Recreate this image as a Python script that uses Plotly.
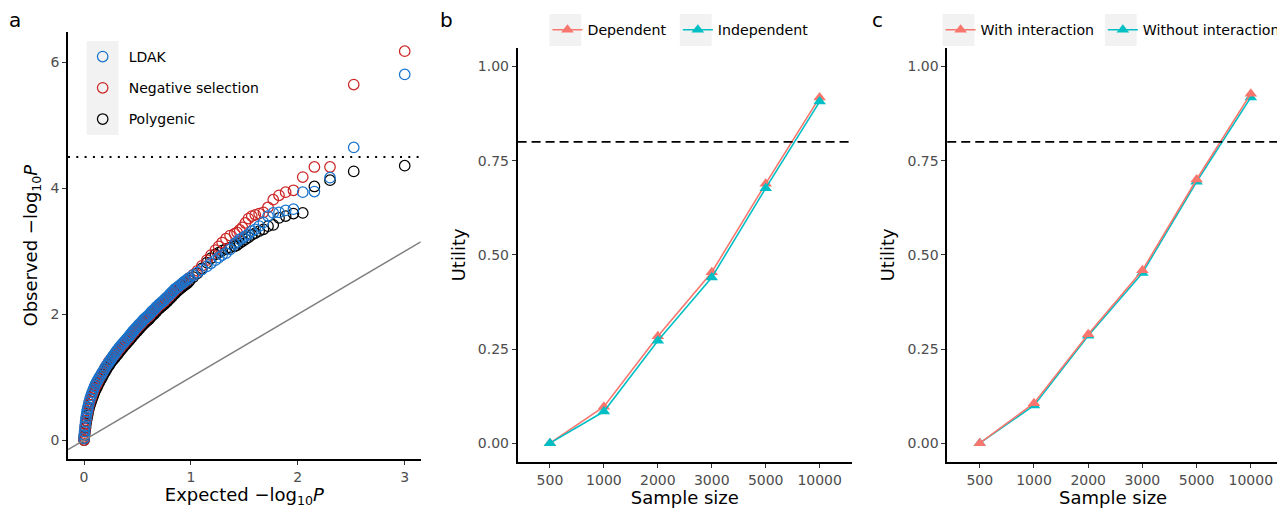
import plotly.graph_objects as go

# ---------------- Panel a: QQ plot data ----------------
expected = [3.000, 2.523, 2.301, 2.155, 2.046, 1.959, 1.886, 1.824, 1.770, 1.721,
            1.678, 1.638, 1.602, 1.569, 1.538, 1.509, 1.481, 1.456, 1.432, 1.409,
            1.366, 1.328, 1.292, 1.260, 1.229, 1.187, 1.149, 1.102, 1.060, 1.022,
            0.987, 0.971, 0.955, 0.939, 0.924, 0.910, 0.889, 0.876, 0.857, 0.845,
            0.827, 0.815, 0.799, 0.783, 0.767, 0.752, 0.738, 0.724, 0.710, 0.697,
            0.680, 0.668, 0.652, 0.636, 0.622, 0.607, 0.593, 0.580, 0.567, 0.554,
            0.539, 0.524, 0.510, 0.496, 0.483, 0.470, 0.457, 0.445, 0.433, 0.421,
            0.410, 0.395, 0.378, 0.364, 0.348, 0.334, 0.320, 0.307, 0.293, 0.282,
            0.268, 0.257, 0.245, 0.234, 0.223, 0.208, 0.194,
            0.181, 0.168, 0.156, 0.143, 0.131, 0.120, 0.108, 0.097, 0.087, 0.076,
            0.066, 0.056, 0.046, 0.037, 0.032, 0.027, 0.023, 0.018, 0.014, 0.009,
            0.005, 0.002, 0.0004]

obs_ldak = [5.81, 4.65, 4.17, 3.95, 3.94, 3.67, 3.65, 3.62, 3.61, 3.56,
            3.46, 3.40, 3.35, 3.32, 3.27, 3.24, 3.21, 3.19, 3.15, 3.12,
            3.03, 2.97, 2.94, 2.90, 2.86, 2.81, 2.76, 2.71, 2.66, 2.62,
            2.58, 2.56, 2.54, 2.52, 2.50, 2.48, 2.45, 2.43, 2.41, 2.39,
            2.36, 2.34, 2.31, 2.28, 2.26, 2.23, 2.21, 2.19, 2.17, 2.15,
            2.12, 2.10, 2.07, 2.05, 2.02, 1.99, 1.97, 1.95, 1.93, 1.91,
            1.88, 1.85, 1.83, 1.80, 1.78, 1.75, 1.73, 1.70, 1.68, 1.65,
            1.63, 1.60, 1.57, 1.54, 1.51, 1.48, 1.45, 1.42, 1.39, 1.36,
            1.33, 1.30, 1.27, 1.24, 1.21, 1.18, 1.14,
            1.10, 1.07, 1.03, 1.00, 0.96, 0.93, 0.89, 0.85, 0.80, 0.76,
            0.71, 0.66, 0.60, 0.53, 0.49, 0.45, 0.40, 0.35, 0.29, 0.22,
            0.14, 0.08, 0.03]

obs_negsel = [6.18, 5.65, 4.34, 4.34, 4.18, 3.97, 3.94, 3.89, 3.82, 3.70,
              3.62, 3.60, 3.58, 3.56, 3.52, 3.45, 3.38, 3.34, 3.30, 3.28,
              3.25, 3.20, 3.14, 3.08, 3.02, 2.94, 2.86, 2.77, 2.69, 2.63,
              2.58, 2.55, 2.53, 2.51, 2.49, 2.47, 2.44, 2.42, 2.39, 2.37,
              2.34, 2.32, 2.29, 2.26, 2.24, 2.21, 2.19, 2.17, 2.15, 2.13,
              2.10, 2.08, 2.05, 2.03, 2.00, 1.97, 1.95, 1.93, 1.91, 1.89,
              1.86, 1.83, 1.81, 1.78, 1.76, 1.73, 1.71, 1.68, 1.66, 1.63,
              1.61, 1.58, 1.55, 1.52, 1.49, 1.46, 1.43, 1.40, 1.37, 1.35,
              1.32, 1.30, 1.27, 1.25, 1.22, 1.18, 1.14,
              1.10, 1.06, 1.02, 0.98, 0.94, 0.90, 0.86, 0.82, 0.77, 0.72,
              0.67, 0.62, 0.56, 0.49, 0.45, 0.41, 0.36, 0.31, 0.25, 0.18,
              0.11, 0.05, 0.00]

obs_poly = [4.36, 4.27, 4.13, 4.03, 3.61, 3.60, 3.56, 3.53, 3.42, 3.40,
            3.35, 3.32, 3.29, 3.26, 3.22, 3.19, 3.16, 3.13, 3.10, 3.08,
            3.06, 3.04, 3.01, 2.98, 2.95, 2.89, 2.82, 2.73, 2.65, 2.59,
            2.53, 2.50, 2.48, 2.46, 2.44, 2.42, 2.39, 2.37, 2.34, 2.32,
            2.29, 2.27, 2.24, 2.21, 2.19, 2.16, 2.14, 2.12, 2.10, 2.08,
            2.05, 2.03, 2.00, 1.98, 1.95, 1.92, 1.90, 1.88, 1.86, 1.84,
            1.81, 1.78, 1.76, 1.73, 1.71, 1.68, 1.66, 1.63, 1.61, 1.58,
            1.56, 1.53, 1.50, 1.47, 1.44, 1.41, 1.38, 1.35, 1.32, 1.30,
            1.27, 1.25, 1.22, 1.19, 1.16, 1.12, 1.08,
            1.04, 1.00, 0.96, 0.92, 0.88, 0.84, 0.80, 0.76, 0.71, 0.66,
            0.61, 0.56, 0.50, 0.43, 0.39, 0.35, 0.31, 0.26, 0.20, 0.14,
            0.08, 0.03, 0.00]

significance_line = 4.5

# ---------------- Panels b, c: utility vs sample size ----------------
sample_sizes = ["500", "1000", "2000", "3000", "5000", "10000"]
utility_dependent = [0.000, 0.097, 0.284, 0.454, 0.689, 0.918]
utility_independent = [0.000, 0.084, 0.272, 0.440, 0.677, 0.907]
utility_with_interaction = [0.000, 0.106, 0.289, 0.459, 0.700, 0.928]
utility_without_interaction = [0.000, 0.100, 0.285, 0.452, 0.694, 0.918]
utility_target = 0.8

# The page body adds an 8 px offset; the figure is sized to fit the window.
OFF = 8
W, H = 1285 - OFF, 508 - OFF
FONT = "DejaVu Sans"
TICKC = "#4D4D4D"
SALMON = "#F8766D"
TEAL = "#00BFC4"
BLUE = "#1874CD"
RED = "#CD2626"


def px_x(p):
    return (p - OFF) / W


def px_y(p):
    return 1 - (p - OFF) / H


fig = go.Figure()

# Panel a traces (drawn black, red, blue so blue is on top)
for name, ys, col, rank in [("Polygenic", obs_poly, "black", 3),
                            ("Negative selection", obs_negsel, RED, 2),
                            ("LDAK", obs_ldak, BLUE, 1)]:
    fig.add_trace(go.Scatter(
        x=expected, y=ys, mode="markers", name=name,
        marker=dict(symbol="circle-open", size=10.5, color=col, line=dict(width=1.25, color=col)),
        xaxis="x", yaxis="y", legend="legend", legendgroup=name, legendrank=rank,
        hoverinfo="skip"))

# Panel b
for name, ys, col, leg in [("Dependent", utility_dependent, SALMON, "legend2"),
                           ("Independent", utility_independent, TEAL, "legend4")]:
    fig.add_trace(go.Scatter(
        x=sample_sizes, y=ys, mode="lines+markers", name=name,
        line=dict(color=col, width=1.6),
        marker=dict(symbol="triangle-up", size=11, color=col),
        xaxis="x2", yaxis="y2", legend=leg))

# Panel c (salmon drawn on top)
for name, ys, col, leg in [("Without interaction", utility_without_interaction, TEAL, "legend5"),
                           ("With interaction", utility_with_interaction, SALMON, "legend3")]:
    fig.add_trace(go.Scatter(
        x=sample_sizes, y=ys, mode="lines+markers", name=name,
        line=dict(color=col, width=1.6),
        marker=dict(symbol="triangle-up", size=11, color=col),
        xaxis="x3", yaxis="y3", legend=leg))

axis_common = dict(showgrid=False, zeroline=False, showline=True, linecolor="black",
                   linewidth=1.6, ticks="outside", ticklen=4, tickwidth=1.2, tickcolor="#333333",
                   tickfont=dict(family=FONT, size=14, color=TICKC), mirror=False)
title_font = dict(family=FONT, size=18, color="black")

x_a_range = [-0.15, 3.15]
y_a_range = [-0.3, 6.48]


def small_legend(xp, yp, size=14.2, **kw):
    return dict(x=px_x(xp), y=px_y(yp), xanchor="left", yanchor="top", bgcolor="rgba(0,0,0,0)",
                font=dict(family=FONT, size=size, color="black"), **kw)


fig.update_layout(
    width=W, height=H, margin=dict(l=0, r=0, t=0, b=0),
    paper_bgcolor="white", plot_bgcolor="white",
    font=dict(family=FONT, color="black"),
    xaxis=dict(domain=[px_x(68.3), px_x(422.7)], range=x_a_range, tickvals=[0, 1, 2, 3],
               anchor="y", title=dict(text="Expected −log<sub>10</sub><i>P</i>", font=title_font, standoff=4),
               **axis_common),
    yaxis=dict(domain=[px_y(459), px_y(32.3)], range=y_a_range, tickvals=[0, 2, 4, 6],
               anchor="x", title=dict(text="Observed −log<sub>10</sub><i>P</i>", font=title_font, standoff=8),
               **axis_common),
    xaxis2=dict(domain=[px_x(520), px_x(856)], type="category", range=[-0.6, 5.6],
                anchor="y2", title=dict(text="Sample size", font=title_font, standoff=4), **axis_common),
    yaxis2=dict(domain=[px_y(462), px_y(47.7)], range=[-0.05, 1.05],
                tickvals=[0, 0.25, 0.5, 0.75, 1.0], ticktext=["0.00", "0.25", "0.50", "0.75", "1.00"],
                anchor="x2", title=dict(text="Utility", font=title_font, standoff=8), **axis_common),
    xaxis3=dict(domain=[px_x(951.7), 1.0], type="category", range=[-0.6, 5.52],
                anchor="y3", title=dict(text="Sample size", font=title_font, standoff=4), **axis_common),
    yaxis3=dict(domain=[px_y(462), px_y(47.7)], range=[-0.05, 1.05],
                tickvals=[0, 0.25, 0.5, 0.75, 1.0], ticktext=["0.00", "0.25", "0.50", "0.75", "1.00"],
                anchor="x3", title=dict(text="Utility", font=title_font, standoff=8), **axis_common),
    legend=small_legend(77, 41, size=14, traceorder="grouped", tracegroupgap=10, itemwidth=42),
    legend2=small_legend(550, 14),
    legend4=small_legend(681, 14),
    legend3=small_legend(945, 14),
    legend5=small_legend(1108, 14),
    showlegend=True,
)

shapes = []
# legend key backgrounds
for (x0, y0, x1, y1) in [(87, 41, 119, 135), (552, 14, 584, 46), (683, 14, 715, 46),
                         (947, 14, 979, 46), (1110, 14, 1142, 46)]:
    shapes.append(dict(type="rect", xref="paper", yref="paper", x0=px_x(x0), x1=px_x(x1),
                       y0=px_y(y1), y1=px_y(y0), fillcolor="#F2F2F2", line=dict(width=0), layer="below"))
# y = x reference line in panel a
shapes.append(dict(type="line", xref="x", yref="y", x0=x_a_range[0], y0=x_a_range[0],
                   x1=x_a_range[1], y1=x_a_range[1], line=dict(color="#808080", width=1.5)))
# dotted significance line
shapes.append(dict(type="line", xref="x domain", yref="y", x0=0, x1=1,
                   y0=significance_line, y1=significance_line,
                   line=dict(color="black", width=2, dash="2px,6.3px")))
# dashed target lines
for xr, yr in [("x2 domain", "y2"), ("x3 domain", "y3")]:
    shapes.append(dict(type="line", xref=xr, yref=yr, x0=0, x1=1,
                       y0=utility_target, y1=utility_target,
                       line=dict(color="black", width=1.6, dash="9px,5px")))
fig.update_layout(shapes=shapes)

annotations = []
for txt, xp in [("a", 15), ("b", 449), ("c", 882)]:
    annotations.append(dict(text=txt, x=px_x(xp), y=px_y(20), xref="paper", yref="paper",
                            showarrow=False, xanchor="center", yanchor="middle",
                            font=dict(family=FONT, size=20, color="black")))
fig.update_layout(annotations=annotations)

fig.write_html("out.html")
